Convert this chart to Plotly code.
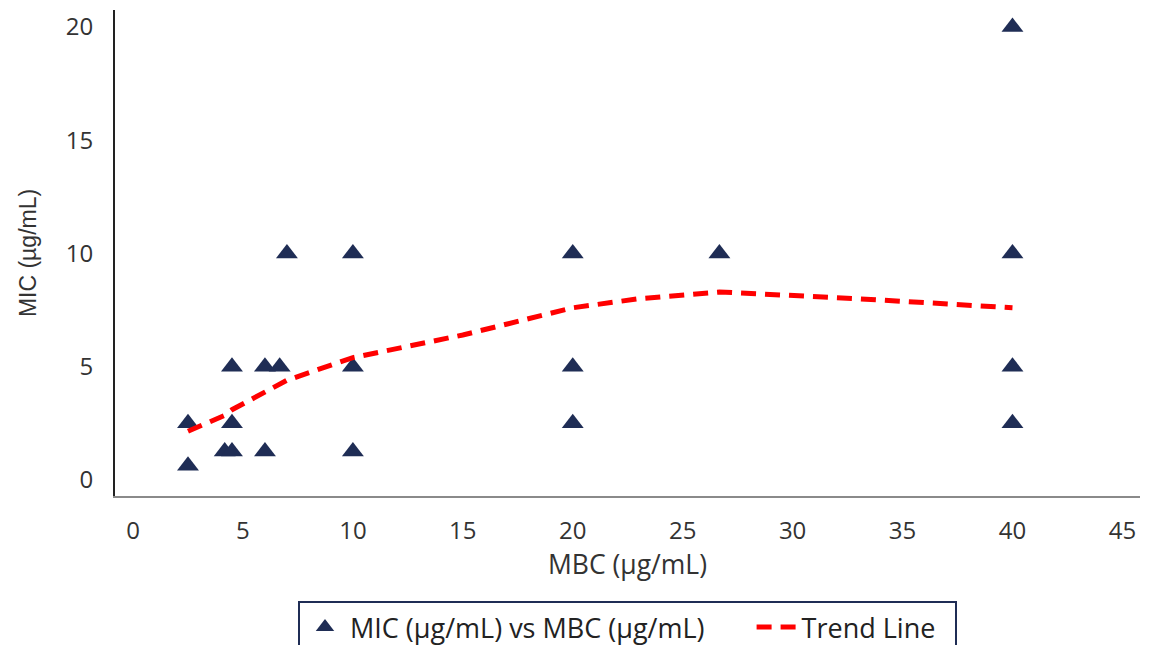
import plotly.graph_objects as go

# Data
mbc = [2.5, 2.5, 4.17, 4.5, 4.5, 4.5, 6.0, 6.0, 6.67, 7.0, 10, 10, 10, 20, 20, 20, 26.67, 40, 40, 40, 40]
mic = [0.625, 2.5, 1.25, 1.25, 2.5, 5, 1.25, 5, 5, 10, 1.25, 5, 10, 2.5, 5, 10, 10, 2.5, 5, 10, 20]

trend_x = [2.5, 4.17, 4.5, 6.0, 6.67, 7.0, 10, 15, 20, 23, 26.67, 33, 40]
trend_y = [2.15, 2.85, 3.1, 3.85, 4.2, 4.4, 5.4, 6.4, 7.6, 8.0, 8.3, 8.0, 7.6]

x_ticks = [0, 5, 10, 15, 20, 25, 30, 35, 40, 45]
y_ticks = [0, 5, 10, 15, 20]

navy = "#1f2d55"
font_main = "'Open Sans', Lato, sans-serif"
nb = "\u00a0"

fig = go.Figure()
fig.add_trace(go.Scatter(
    x=mbc, y=mic, mode="markers",
    name="MIC (µg/mL) vs MBC (µg/mL)" + nb * 6,
    marker=dict(symbol="triangle-up", size=19, color=navy),
))
fig.add_trace(go.Scatter(
    x=trend_x, y=trend_y, mode="lines",
    name="Trend Line" + nb * 2,
    line=dict(color="#ff0000", width=5, dash="15px,9px"),
))

fig.update_layout(
    width=1152, height=660,
    paper_bgcolor="white", plot_bgcolor="white",
    margin=dict(l=107, r=20, t=2, b=172),
    font=dict(family=font_main, size=24, color="#333333"),
    showlegend=True,
    legend=dict(
        orientation="h", x=0.5, xanchor="center", y=-0.216, yanchor="top",
        bordercolor=navy, borderwidth=2, font=dict(size=27, color="#222222"),
        itemwidth=40,
    ),
    xaxis=dict(
        range=[-0.82, 45.8], tickvals=x_ticks, showgrid=False, zeroline=False,
        showline=True, linecolor="#8a8a8a", linewidth=1.5,
        ticks="", ticklabelstandoff=12, automargin=False,
        title=dict(text="MBC (µg/mL)", standoff=0,
                   font=dict(family=font_main, size=26.5, color="#333333")),
    ),
    yaxis=dict(
        range=[-0.71, 20.75], tickvals=y_ticks, showgrid=False, zeroline=False,
        showline=True, linecolor="#222222", linewidth=2,
        ticks="", ticklabelstandoff=15, automargin=False,
        title=dict(text="MIC (µg/mL)", standoff=23,
                   font=dict(family="'Liberation Sans', Arial, sans-serif", size=23, color="#333333")),
    ),
)

fig.write_html("out.html")
